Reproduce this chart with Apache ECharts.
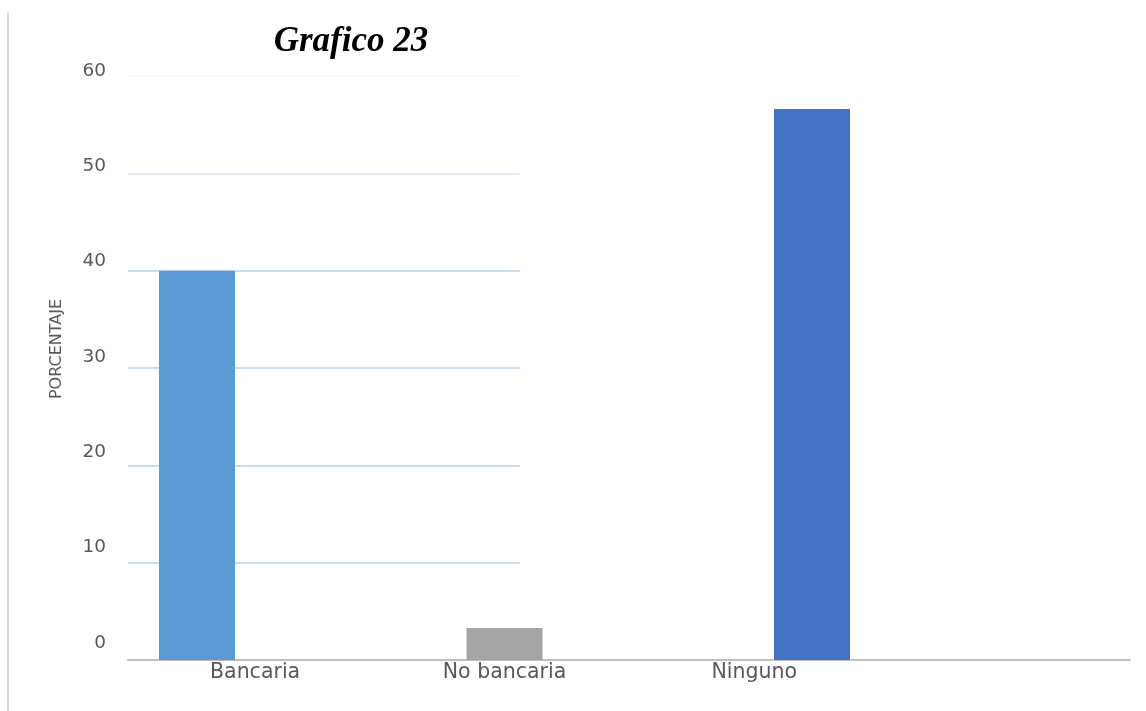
<!DOCTYPE html>
<html>
<head>
<meta charset="utf-8">
<script src="https://cdn.jsdelivr.net/npm/echarts@6/dist/echarts.min.js"></script>
<style>html,body{margin:0;padding:0;background:#fff;}#c{width:1146px;height:711px;}</style>
</head>
<body>
<div id="c"></div>
<script>
const categories = ['Bancaria', 'No bancaria', 'Ninguno'];
const values = [40, 3.3, 56.6];
const barColors = ['#5b9bd5', '#a5a5a5', '#4472c4'];
const yTicks = [0, 10, 20, 30, 40, 50, 60];
const titleText = 'Grafico 23';
const yName = 'PORCENTAJE';

const chart = echarts.init(document.getElementById('c'), null, {renderer: 'canvas'});
const xLabelFont = {fontFamily: 'DejaVu Sans', fontSize: 20.5, color: '#595959'};
const yLabelFont = {fontFamily: 'DejaVu Sans', fontSize: 18.5, color: '#595959'};
const catData = categories.map((c, i) => {
  const o = {value: c};
  if (i === 0) o.textStyle = {align: 'left', padding: [0, 0, 0, 13]};
  if (i === 2) o.textStyle = {align: 'right', padding: [0, 15, 0, 0]};
  return o;
});
chart.setOption({
  animation: false,
  title: {
    text: titleText, left: 346, top: 19, textAlign: 'center',
    textStyle: {fontFamily: 'Liberation Serif', fontStyle: 'italic', fontWeight: 'bold', fontSize: 35, color: '#000'}
  },
  graphic: [{type: 'rect', shape: {x: 7, y: 12, width: 2, height: 699}, style: {fill: '#d9d9d9'}}],
  grid: [
    {left: 43.25, width: 922.5, top: 76, bottom: 51},   // bars
    {left: 128, right: 16, top: 76, bottom: 51},        // axis line
    {left: 128, width: 392, top: 76, bottom: 51},       // gridlines
    {left: 128, right: 16, top: 71, bottom: 68}         // y labels
  ],
  xAxis: [
    {gridIndex: 0, type: 'category', data: catData, axisLine: {show: false}, axisTick: {show: false},
     axisLabel: Object.assign({margin: 2}, xLabelFont)},
    {gridIndex: 1, type: 'category', data: categories, axisLine: {show: true, lineStyle: {color: '#bfbfbf', width: 2}},
     axisTick: {show: false}, axisLabel: {show: false}},
    {gridIndex: 2, type: 'category', data: categories, show: false},
    {gridIndex: 3, type: 'category', data: categories, show: false}
  ],
  yAxis: [
    {gridIndex: 0, type: 'value', min: 0, max: 60, interval: 10, show: false},
    {gridIndex: 1, type: 'value', min: 0, max: 60, interval: 10, show: false},
    {gridIndex: 2, type: 'value', min: 0, max: 60, interval: 10, axisLine: {show: false}, axisTick: {show: false},
     axisLabel: {show: false},
     splitLine: {show: true, showMinLine: false, showMaxLine: true,
       lineStyle: {width: 2, color: ['#c9dcf0', '#c9dcf0', '#c9dcf0', '#c9dcf0', '#e1ebf6', '#f6f9fc']}}},
    {gridIndex: 3, type: 'value', min: yTicks[0], max: yTicks[yTicks.length - 1], interval: 10,
     axisLine: {show: false}, axisTick: {show: false}, splitLine: {show: false},
     axisLabel: Object.assign({margin: 22}, yLabelFont),
     name: yName, nameLocation: 'middle', nameGap: 63, nameRotate: 90,
     nameTextStyle: {fontFamily: 'DejaVu Sans', fontSize: 16, color: '#595959', padding: [0, 0, 0, 16]}}
  ],
  series: [{
    type: 'bar', xAxisIndex: 0, yAxisIndex: 0, barWidth: 76,
    data: values.map((v, i) => ({value: v, itemStyle: {color: barColors[i]}}))
  }]
});
</script>
</body>
</html>
